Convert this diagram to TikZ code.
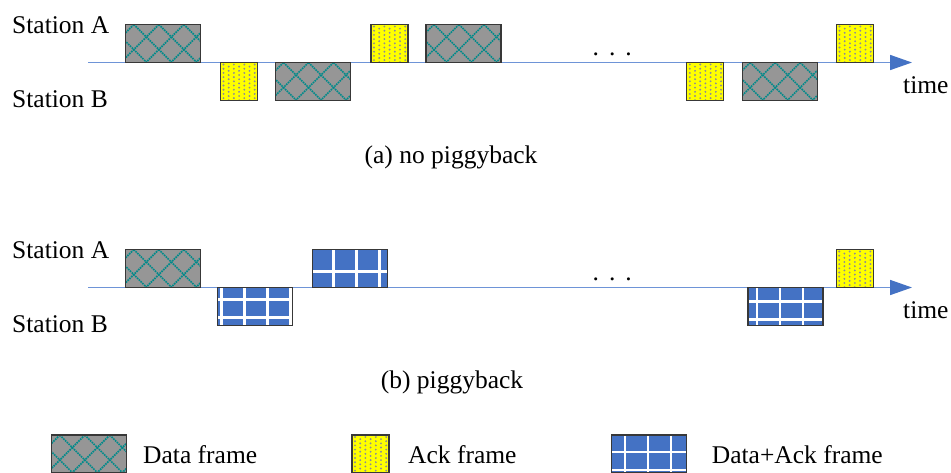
\documentclass[tikz,border=0pt]{standalone}
\usepackage{fontspec}
\setmainfont{Liberation Serif}
\usetikzlibrary{arrows.meta}
\definecolor{datagray}{RGB}{150,150,150}
\definecolor{diagteal}{RGB}{0,138,138}
\definecolor{ackyellow}{RGB}{255,255,0}
\definecolor{dotgray}{RGB}{140,140,150}
\definecolor{dablue}{RGB}{68,114,196}
\definecolor{lineblue}{RGB}{110,148,215}
\definecolor{headblue}{RGB}{68,114,196}
\tikzset{
  lbl/.style={font=\fontsize{25.5}{30}\selectfont, inner sep=0pt, anchor=base west},
  capt/.style={font=\fontsize{25.5}{30}\selectfont, inner sep=0pt, anchor=base},
  framebox/.style={draw=black!78, line width=1.1pt, inner sep=0pt, outer sep=0pt, minimum height=38pt},
  diag/.style={draw=diagteal, line width=1.7pt, dash pattern=on 1.6pt off 0.9pt},
  gridw/.style={draw=white, line width=2.4pt},
  datafr/.style={framebox, fill=datagray, minimum width=75pt, path picture={
    \foreach \k in {-3,...,5}{
      \draw[diag] ([xshift=\k*25pt+8pt]path picture bounding box.north west) -- ++(50pt,-50pt);
      \draw[diag] ([xshift=\k*25pt+8pt]path picture bounding box.north west) -- ++(-50pt,-50pt);
    }}},
  ackfr/.style={framebox, fill=ackyellow, minimum width=37pt, path picture={
    \foreach \i in {0,...,6}{
      \foreach \j in {0,...,9}{
        \fill[dotgray] ([xshift={\i*5.2pt+3pt}, yshift={-\j*4.2pt-2pt-mod(\i,2)*2.1pt}]path picture bounding box.north west) circle[radius=1.05pt];
      }}}},
  dafr/.style 2 args={framebox, fill=dablue, minimum width=75pt, path picture={
    \foreach \v in {0,...,3}{
      \draw[gridw] ([xshift={#1pt+\v*23pt}]path picture bounding box.north west) -- ++(0pt,-50pt);}
    \foreach \h in {0,1}{
      \draw[gridw] ([yshift={-#2pt-\h*18pt}]path picture bounding box.north west) -- ++(90pt,0pt);}
    }},
  timeline/.style={draw=lineblue, line width=1.6pt, -{Triangle[length=22pt,width=15pt,color=headblue]}}
}
\begin{document}
\begin{tikzpicture}[x=1pt,y=-1pt]
\useasboundingbox (0,0) rectangle (951,472);
\clip (0,0) rectangle (951,472);
\fill[white] (0,0) rectangle (951,472);

% ---------- (a) no piggyback ----------
\coordinate (as) at (88,62.5);
\coordinate (ae) at (912,62.5);
\draw[timeline] (as) -- (ae);
\node[lbl] (aSA) at (12,33) {Station A};
\node[lbl] (aSB) at (12,107) {Station B};
\node[lbl] (atime) at (903,93) {time};
\node[lbl] (adots) at (592.5,55) {.\hspace{10pt}.\hspace{10pt}.};
\node[capt] (acap) at (451,163) {(a) no piggyback};

\node[datafr] (a1) at (163.3,43.5) {};
\node[ackfr]  (a2) at (239,81.5) {};
\node[datafr] (a3) at (313,81.5) {};
\node[ackfr]  (a4) at (389.5,43.5) {};
\node[datafr] (a5) at (463.5,43.5) {};
\node[ackfr]  (a6) at (705.3,81.5) {};
\node[datafr] (a7) at (779.7,81.5) {};
\node[ackfr]  (a8) at (855,43.5) {};

% ---------- (b) piggyback ----------
\coordinate (bs) at (88,287.5);
\coordinate (be) at (912,287.5);
\draw[timeline] (bs) -- (be);
\node[lbl] (bSA) at (12,258) {Station A};
\node[lbl] (bSB) at (12,332) {Station B};
\node[lbl] (btime) at (903,318) {time};
\node[lbl] (bdots) at (592.5,280) {.\hspace{10pt}.\hspace{10pt}.};
\node[capt] (bcap) at (452,388) {(b) piggyback};

\node[datafr]          (b1) at (163.3,268.5) {};
\node[dafr={4}{12}]    (b2) at (254.8,306.5) {};
\node[dafr={21}{22}]   (b3) at (350,268.5) {};
\node[dafr={9}{14}]    (b4) at (785.5,306.5) {};
\node[ackfr]           (b5) at (854.7,268.5) {};

% ---------- legend ----------
\node[datafr]        (l1) at (89.3,454) {};
\node[lbl] (l1t) at (143,463) {Data frame};
\node[ackfr]         (l2) at (370.5,454) {};
\node[lbl] (l2t) at (408,463) {Ack frame};
\node[dafr={13}{17}] (l3) at (649.2,454) {};
\node[lbl] (l3t) at (711.7,463) {Data+Ack frame};
\end{tikzpicture}
\end{document}
